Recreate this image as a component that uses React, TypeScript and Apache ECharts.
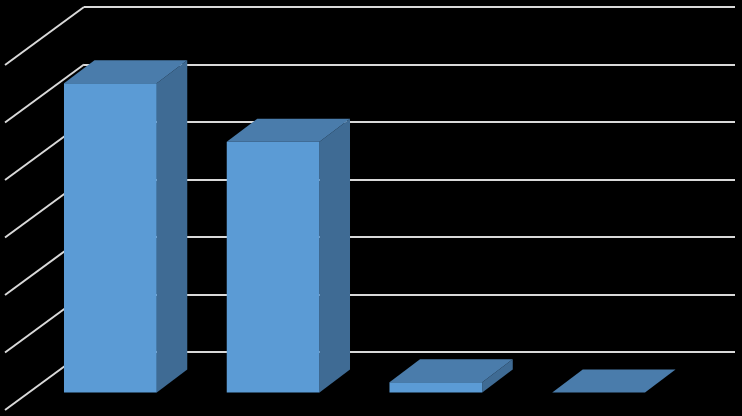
import { useEffect, useRef } from 'react';
import * as echarts from 'echarts';

const categories = ['Category 1', 'Category 2', 'Category 3', 'Category 4'];
const values = [53.8, 43.6, 1.8, 0];
const yTicks = [0, 10, 20, 30, 40, 50, 60];

// 3D look: offsets from the back wall (the ECharts grid) towards the viewer
const FLOOR = [-79, 58];
const BAR_FRONT = [-55, 40.5];
const BAR_DEPTH = [30.5, -23];

export default function App() {
    const chartRef = useRef<HTMLDivElement>(null);

    useEffect(() => {
        const myChart = echarts.init(chartRef.current, null, { renderer: 'svg' });

        myChart.setOption({
            animation: false,
            backgroundColor: '#000000',
            grid: { left: 84, right: 7, top: 7, bottom: 64 },
            xAxis: {
                type: 'category',
                data: categories,
                axisLine: { show: false },
                axisTick: { show: false },
                axisLabel: { show: false },
            },
            yAxis: {
                type: 'value',
                min: 0,
                max: 60,
                interval: 10,
                axisLine: { show: false },
                axisTick: { show: false },
                axisLabel: { show: false },
                splitLine: { lineStyle: { color: '#d9d9d9', width: 2 } },
            },
            series: [
                {
                    // slanted grid lines on the left side wall
                    type: 'custom',
                    z: 1,
                    silent: true,
                    data: yTicks.map((v) => [0, v]),
                    renderItem: (params: any, api: any) => {
                        const p = api.coord([0, api.value(1)]);
                        const x0 = params.coordSys.x;
                        return {
                            type: 'line',
                            shape: { x1: x0, y1: p[1], x2: x0 + FLOOR[0], y2: p[1] + FLOOR[1] },
                            style: { stroke: '#d9d9d9', lineWidth: 2 },
                        };
                    },
                },
                {
                    type: 'custom',
                    z: 2,
                    data: values.map((v, i) => [i, v]),
                    renderItem: (params: any, api: any) => {
                        const idx = api.value(0);
                        const top = api.coord([idx, api.value(1)]);
                        const base = api.coord([idx, 0]);
                        const half = (api.size([1, 0])[0] * 0.57) / 2;
                        const l = top[0] - half + BAR_FRONT[0];
                        const r = top[0] + half + BAR_FRONT[0];
                        const t = top[1] + BAR_FRONT[1];
                        const b = base[1] + BAR_FRONT[1];
                        const [dx, dy] = BAR_DEPTH;
                        return {
                            type: 'group',
                            children: [
                                {
                                    type: 'polygon',
                                    shape: { points: [[r, t], [r + dx, t + dy], [r + dx, b + dy], [r, b]] },
                                    style: { fill: '#3f6b94' },
                                },
                                {
                                    type: 'polygon',
                                    shape: { points: [[l, t], [l + dx, t + dy], [r + dx, t + dy], [r, t]] },
                                    style: { fill: '#4a7cab' },
                                },
                                {
                                    type: 'rect',
                                    shape: { x: l, y: t, width: r - l, height: b - t },
                                    style: { fill: '#5b9bd5' },
                                },
                            ],
                        };
                    },
                },
            ],
        });

        return () => {
            myChart.dispose();
        };
    }, []);

    return (
        <div
            ref={chartRef}
            style={{ position: 'fixed', left: 0, top: 0, width: '742px', height: '416px' }}
        />
    );
}
